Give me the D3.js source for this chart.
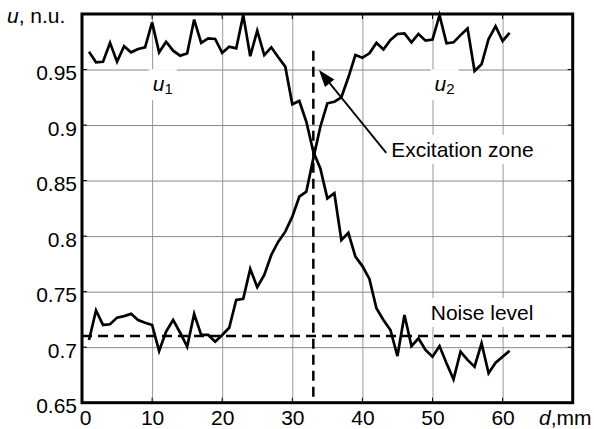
<!DOCTYPE html>
<html>
<head>
<meta charset="utf-8">
<script src="https://cdn.jsdelivr.net/npm/d3@7"></script>
<style>
  body { margin: 0; background: #fff; }
  svg text { font-family: Arial, "Liberation Sans", Helvetica, sans-serif; fill: #000; }
</style>
</head>
<body>
<svg id="chart" width="594" height="429"></svg>
<script>
// Distance along the sample, mm
const distance = [1, 2, 3, 4, 5, 6, 7, 8, 9, 10, 11, 12, 13, 14, 15, 16, 17, 18, 19, 20,
  21, 22, 23, 24, 25, 26, 27, 28, 29, 30, 31, 32, 33, 34, 35, 36, 37, 38, 39, 40,
  41, 42, 43, 44, 45, 46, 47, 48, 49, 50, 51, 52, 53, 54, 55, 56, 57, 58, 59, 60, 61];

// Signal u1, n.u.
const u1 = [0.966, 0.9565, 0.957, 0.974, 0.957, 0.971, 0.9655, 0.9685, 0.970, 0.9925,
  0.9655, 0.975, 0.967, 0.9625, 0.9645, 0.995, 0.974, 0.978, 0.9775, 0.965,
  0.9705, 0.969, 0.999, 0.962, 0.985, 0.963, 0.970, 0.961, 0.9526, 0.9187,
  0.9217, 0.903, 0.876, 0.861, 0.834, 0.8386, 0.7965, 0.803, 0.7815, 0.773,
  0.7615, 0.735, 0.7245, 0.7155, 0.692, 0.729, 0.701, 0.708, 0.6975, 0.6914,
  0.701, 0.6855, 0.671, 0.696, 0.6885, 0.6824, 0.7035, 0.6765, 0.686, 0.6914, 0.6968];

// Signal u2, n.u.
const u2 = [0.7065, 0.733, 0.720, 0.7206, 0.7266, 0.728, 0.730, 0.7245, 0.722, 0.720,
  0.6966, 0.714, 0.7245, 0.713, 0.7004, 0.730, 0.711, 0.711, 0.705, 0.711,
  0.7175, 0.7425, 0.7435, 0.7705, 0.754, 0.765, 0.783, 0.795, 0.804, 0.8175,
  0.8355, 0.840, 0.870, 0.8985, 0.9196, 0.921, 0.925, 0.943, 0.963, 0.9607,
  0.9646, 0.974, 0.968, 0.9766, 0.982, 0.9826, 0.9745, 0.982, 0.976, 0.977,
  0.999, 0.9736, 0.9745, 0.981, 0.987, 0.9487, 0.9547, 0.9775, 0.989, 0.9757, 0.983];

const xTicks = [0, 10, 20, 30, 40, 50, 60];
const yTicks = [0.65, 0.7, 0.75, 0.8, 0.85, 0.9, 0.95];
const yTickLabels = ["0.65", "0.7", "0.75", "0.8", "0.85", "0.9", "0.95"];

const noiseLevel = 0.71;
const excitationD = 33;
const excitationSpan = [0.655, 0.967];

const FONT = 21;
const svg = d3.select("#chart");
const W = 594, H = 429;
const margin = { top: 14, right: 21.3, bottom: 26.3, left: 82 };
const w = W - margin.left - margin.right;
const h = H - margin.top - margin.bottom;

const x = d3.scaleLinear().domain([0, 70]).range([0, w]);
const y = d3.scaleLinear().domain([0.65, 1.0]).range([h, 0]);

const g = svg.append("g").attr("transform", `translate(${margin.left},${margin.top})`);

// Grid
g.append("g")
  .attr("transform", `translate(0,${h})`)
  .call(d3.axisBottom(x).tickValues(xTicks.slice(1)).tickSize(-h).tickFormat(""))
  .call(a => a.select(".domain").remove())
  .call(a => a.selectAll("line").attr("stroke", "#999").attr("stroke-width", 1));
g.append("g")
  .call(d3.axisLeft(y).tickValues(yTicks.slice(1)).tickSize(-w).tickFormat(""))
  .call(a => a.select(".domain").remove())
  .call(a => a.selectAll("line").attr("stroke", "#888").attr("stroke-width", 1));

// Short inner ticks on all four sides
const tickLen = 5;
const tickG = g.append("g").attr("stroke", "#000").attr("stroke-width", 1);
xTicks.slice(1).forEach(t => {
  tickG.append("line").attr("x1", x(t)).attr("x2", x(t)).attr("y1", h).attr("y2", h - tickLen);
  tickG.append("line").attr("x1", x(t)).attr("x2", x(t)).attr("y1", 0).attr("y2", tickLen);
});
yTicks.slice(1).forEach(t => {
  tickG.append("line").attr("x1", 0).attr("x2", tickLen).attr("y1", y(t)).attr("y2", y(t));
  tickG.append("line").attr("x1", w).attr("x2", w - tickLen).attr("y1", y(t)).attr("y2", y(t));
});

// Tick labels
g.append("g")
  .call(d3.axisLeft(y).tickValues(yTicks).tickSize(0).tickPadding(5)
    .tickFormat((d, i) => yTickLabels[i]))
  .call(a => a.select(".domain").remove())
  .call(a => a.selectAll("text").attr("font-size", FONT).attr("dy", "0.48em")
    .style("font-family", "Arial, 'Liberation Sans', sans-serif"));
g.append("g")
  .attr("transform", `translate(0,${h})`)
  .call(d3.axisBottom(x).tickValues(xTicks).tickSize(0).tickPadding(7))
  .call(a => a.select(".domain").remove())
  .call(a => a.selectAll("text").attr("font-size", FONT)
    .attr("dx", d => d === 0 ? 3 : 0)
    .style("font-family", "Arial, 'Liberation Sans', sans-serif"));

// Annotation layer: white boxes behind labels hide the grid
const boxLayer = g.append("g");
const markLayer = g.append("g");
const textLayer = g.append("g");

function label(parts, px, py) {
  const t = textLayer.append("text").attr("x", px).attr("y", py).attr("font-size", FONT);
  parts.forEach(p => {
    const s = t.append("tspan").text(p.text);
    if (p.italic) s.attr("font-style", "italic");
    if (p.sub) s.attr("font-size", 15).attr("dy", 3);
  });
  const b = t.node().getBBox();
  boxLayer.append("rect")
    .attr("x", b.x - 4).attr("y", b.y - 3)
    .attr("width", b.width + 8).attr("height", b.height + 6)
    .attr("fill", "#fff");
  return t;
}

label([{ text: "u", italic: true }, { text: "1", sub: true }], x(10.1), y(0.9305));
label([{ text: "u", italic: true }, { text: "2", sub: true }], x(50.3), y(0.9305));
label([{ text: "Excitation zone" }], x(44.1), y(0.8715));
label([{ text: "Noise level" }], x(49.75), y(0.7245));

// Noise level and excitation position
markLayer.append("line")
  .attr("x1", x(0)).attr("x2", x(70))
  .attr("y1", y(noiseLevel)).attr("y2", y(noiseLevel))
  .attr("stroke", "#000").attr("stroke-width", 2.5).attr("stroke-dasharray", "10,6");
markLayer.append("line")
  .attr("x1", x(excitationD)).attr("x2", x(excitationD))
  .attr("y1", y(excitationSpan[1])).attr("y2", y(excitationSpan[0]))
  .attr("stroke", "#000").attr("stroke-width", 2.5).attr("stroke-dasharray", "10,6");

// Signal curves
const line = d3.line().x((d, i) => x(distance[i])).y(d => y(d));
[u1, u2].forEach(series => {
  markLayer.append("path")
    .datum(series)
    .attr("d", line)
    .attr("fill", "none")
    .attr("stroke", "#000")
    .attr("stroke-width", 2.7)
    .attr("stroke-linejoin", "miter");
});

// Arrow pointing at the excitation zone
const tip = [x(33.8), y(0.9496)];
const tail = [x(43.4), y(0.875)];
const ang = Math.atan2(tip[1] - tail[1], tip[0] - tail[0]);
const headLen = 17, headHalf = 6;
const base = [tip[0] - headLen * Math.cos(ang), tip[1] - headLen * Math.sin(ang)];
markLayer.append("line")
  .attr("x1", tail[0]).attr("y1", tail[1]).attr("x2", base[0]).attr("y2", base[1])
  .attr("stroke", "#000").attr("stroke-width", 1.8);
markLayer.append("path")
  .attr("d", d3.line()([
    tip,
    [base[0] + headHalf * Math.sin(ang), base[1] - headHalf * Math.cos(ang)],
    [base[0] - headHalf * Math.sin(ang), base[1] + headHalf * Math.cos(ang)]
  ]) + "Z")
  .attr("fill", "#000");

// Frame
g.append("rect")
  .attr("x", 0).attr("y", 0).attr("width", w).attr("height", h)
  .attr("fill", "none").attr("stroke", "#000").attr("stroke-width", 3);

// Axis titles
const yTitle = svg.append("text").attr("x", 7).attr("y", 23).attr("font-size", FONT);
yTitle.append("tspan").attr("font-style", "italic").text("u");
yTitle.append("tspan").text(", n.u.");

const xTitle = svg.append("text").attr("x", 539).attr("y", 425).attr("font-size", FONT);
xTitle.append("tspan").attr("font-style", "italic").text("d");
xTitle.append("tspan").text(",mm");
</script>
</body>
</html>
